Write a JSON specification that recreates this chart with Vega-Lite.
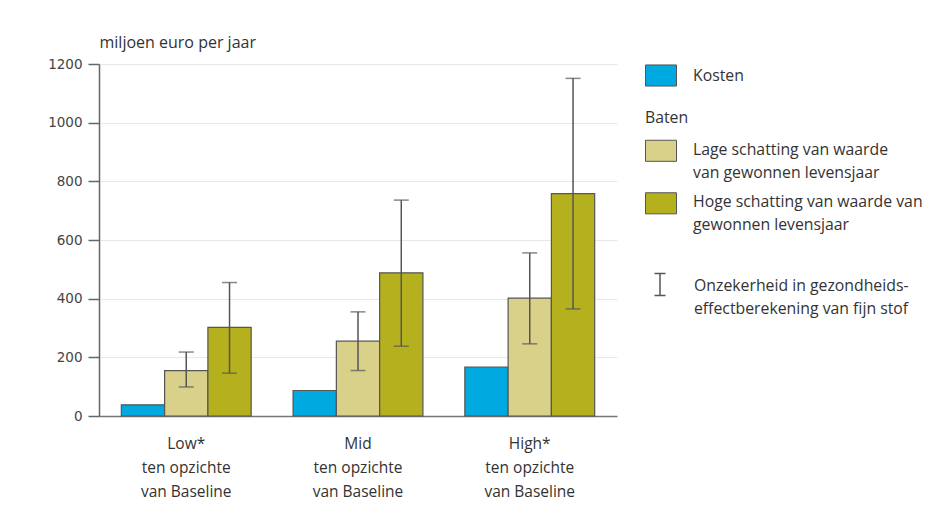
{
  "$schema": "https://vega.github.io/schema/vega-lite/v6.json",
  "width": 518,
  "height": 352,
  "autosize": {"type": "none"},
  "padding": {"left": 99, "top": 64, "right": 316, "bottom": 90},
  "background": "white",
  "config": {
    "view": {"stroke": null},
    "font": "Open Sans",
    "legend": {"labelFont": "Open Sans", "labelFontSize": 15.8, "labelColor": "#333", "titleFont": "Open Sans", "titleFontSize": 15.8, "titleFontWeight": "normal", "titleColor": "#333", "padding": 0}
  },
  "data": {
    "values": [
      {"scen": "Low*|ten opzichte|van Baseline", "reeks": "Kosten", "waarde": 38, "laag": null, "hoog": null},
      {"scen": "Low*|ten opzichte|van Baseline", "reeks": "Lage schatting van waarde|van gewonnen levensjaar", "waarde": 155, "laag": 99, "hoog": 218},
      {"scen": "Low*|ten opzichte|van Baseline", "reeks": "Hoge schatting van waarde van|gewonnen levensjaar", "waarde": 302, "laag": 146, "hoog": 455},
      {"scen": "Mid|ten opzichte|van Baseline", "reeks": "Kosten", "waarde": 87, "laag": null, "hoog": null},
      {"scen": "Mid|ten opzichte|van Baseline", "reeks": "Lage schatting van waarde|van gewonnen levensjaar", "waarde": 255, "laag": 155, "hoog": 355},
      {"scen": "Mid|ten opzichte|van Baseline", "reeks": "Hoge schatting van waarde van|gewonnen levensjaar", "waarde": 488, "laag": 238, "hoog": 736},
      {"scen": "High*|ten opzichte|van Baseline", "reeks": "Kosten", "waarde": 167, "laag": null, "hoog": null},
      {"scen": "High*|ten opzichte|van Baseline", "reeks": "Lage schatting van waarde|van gewonnen levensjaar", "waarde": 402, "laag": 246, "hoog": 556},
      {"scen": "High*|ten opzichte|van Baseline", "reeks": "Hoge schatting van waarde van|gewonnen levensjaar", "waarde": 758, "laag": 365, "hoog": 1151}
    ]
  },
  "encoding": {
    "x": {
      "field": "scen", "type": "nominal", "sort": null,
      "scale": {"paddingInner": 0.244, "paddingOuter": 0.13},
      "axis": {
        "title": null, "labelAngle": 0, "ticks": false,
        "labelExpr": "split(datum.label, '|')",
        "labelFont": "Open Sans", "labelFontSize": 15.5, "labelColor": "#333",
        "labelLineHeight": 24, "labelPadding": 20.5,
        "domainColor": "#777", "domainWidth": 1.5
      }
    },
    "xOffset": {
      "field": "reeks", "type": "nominal",
      "scale": {"domain": ["Kosten", "Lage schatting van waarde|van gewonnen levensjaar", "Hoge schatting van waarde van|gewonnen levensjaar"], "paddingInner": 0, "paddingOuter": 0}
    }
  },
  "layer": [
    {
      "transform": [{"filter": "datum.reeks === 'Kosten'"}],
      "mark": {"type": "bar", "stroke": "#555", "strokeWidth": 1.2},
      "encoding": {
        "y": {
          "field": "waarde", "type": "quantitative",
          "scale": {"domain": [0, 1200], "nice": false},
          "axis": {
            "values": [0, 100, 200, 300, 400, 500, 600, 700, 800, 900, 1000, 1100, 1200],
            "labelExpr": "datum.value % 200 === 0 ? datum.label : ''",
            "format": "d",
            "tickSize": {"condition": {"test": "datum.value % 200 === 0", "value": 11}, "value": 5},
            "grid": true,
            "gridColor": "#e8e8e8",
            "gridOpacity": {"condition": {"test": "datum.value % 200 === 0 && datum.value > 0", "value": 1}, "value": 0},
            "domainColor": "#666", "domainWidth": 1.5,
            "tickColor": "#666", "tickWidth": 1.5,
            "labelFont": "DejaVu Sans", "labelFontSize": 13.5, "labelColor": "#444",
            "labelPadding": 6, "labelFlush": false, "labelOverlap": false,
            "title": "miljoen euro per jaar",
            "titleAngle": 0, "titleAlign": "left", "titleBaseline": "middle",
            "titleX": 0, "titleY": -22,
            "titleFont": "Open Sans", "titleFontSize": 16, "titleFontWeight": "normal", "titleColor": "#333"
          }
        },
        "fill": {
          "field": "reeks", "type": "nominal",
          "scale": {"domain": ["Kosten"], "range": ["#00a9e0"]},
          "legend": {
            "title": null, "orient": "none", "legendX": 546, "legendY": -4.5,
            "symbolType": "M-1,-0.68H1V0.68H-1Z", "symbolSize": 961,
            "symbolStrokeColor": "#555", "symbolStrokeWidth": 1, "symbolOpacity": 1,
            "labelOffset": 16
          }
        }
      }
    },
    {
      "transform": [{"filter": "datum.reeks !== 'Kosten'"}],
      "mark": {"type": "bar", "stroke": "#555", "strokeWidth": 1.2},
      "encoding": {
        "y": {"field": "waarde", "type": "quantitative"},
        "fill": {
          "field": "reeks", "type": "nominal",
          "scale": {"domain": ["Lage schatting van waarde|van gewonnen levensjaar", "Hoge schatting van waarde van|gewonnen levensjaar"], "range": ["#d9d08a", "#b5b01e"]},
          "legend": {
            "title": "Baten", "orient": "none", "legendX": 546, "legendY": 47,
            "titlePadding": 8,
            "symbolType": "M-1,-0.68H1V0.68H-1Z", "symbolSize": 961,
            "symbolStrokeColor": "#555", "symbolStrokeWidth": 1, "symbolOpacity": 1,
            "labelOffset": 16, "rowPadding": 6.5,
            "labelExpr": "split(datum.label, '|')",
            "labelBaseline": "top",
            "labelLimit": 300,
            "encode": {"labels": {"update": {"lineHeight": {"value": 23}, "dy": {"value": -8}}}}
          }
        }
      }
    },
    {
      "transform": [{"filter": "datum.laag != null"}],
      "mark": {"type": "rule", "strokeWidth": 1.5},
      "encoding": {
        "y": {"field": "laag", "type": "quantitative"},
        "y2": {"field": "hoog"},
        "stroke": {
          "datum": "Onzekerheid in gezondheids-|effectberekening van fijn stof",
          "scale": {"range": ["#555"]},
          "legend": {
            "title": null, "orient": "none", "legendX": 549, "legendY": 208.5,
            "symbolType": "M-0.5,-1H0.5M0,-1V1M-0.5,1H0.5", "symbolSize": 484,
            "symbolStrokeWidth": 1.5, "symbolStrokeColor": "#555", "symbolFillColor": "transparent",
            "labelOffset": 22,
            "labelExpr": "split(datum.label, '|')",
            "labelBaseline": "top",
            "labelLimit": 300,
            "encode": {"labels": {"update": {"lineHeight": {"value": 23}, "dy": {"value": -6}}}}
          }
        }
      }
    },
    {
      "transform": [{"filter": "datum.laag != null"}],
      "mark": {"type": "tick", "size": 15, "thickness": 1.5, "color": "#555"},
      "encoding": {"y": {"field": "laag", "type": "quantitative"}}
    },
    {
      "transform": [{"filter": "datum.laag != null"}],
      "mark": {"type": "tick", "size": 15, "thickness": 1.5, "color": "#555"},
      "encoding": {"y": {"field": "hoog", "type": "quantitative"}}
    }
  ],
  "resolve": {"scale": {"fill": "independent"}}
}
